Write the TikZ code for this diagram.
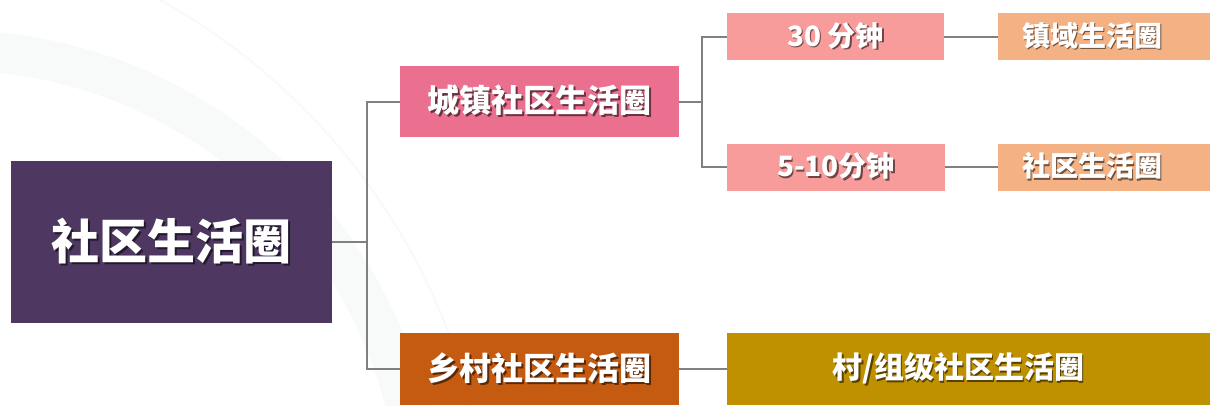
\documentclass[tikz,border=0pt]{standalone}
\usepackage{fontspec}
\newfontfamily\cjk{Noto Sans CJK SC}
\definecolor{cpurple}{HTML}{4E3861}
\definecolor{cpink}{HTML}{EB6F8E}
\definecolor{corange}{HTML}{C55A11}
\definecolor{csalmon}{HTML}{F79C9A}
\definecolor{cpeach}{HTML}{F4B183}
\definecolor{cgold}{HTML}{BF9000}
\definecolor{cline}{HTML}{808080}
\definecolor{carc}{HTML}{F8FAFA}
\newcommand\shtext[2]{\makebox[0pt][l]{\hspace{1.6pt}\raisebox{-1.6pt}{\textcolor{#1!45!black}{#2}}}#2}
\tikzset{
  box/.style={rectangle, inner sep=0pt, text=white, font=\cjk\bfseries},
  conn/.style={draw=cline, line width=2pt},
}
\begin{document}
\begin{tikzpicture}[x=1pt,y=-1pt]
\useasboundingbox (0,0) rectangle (1210,405);
\fill[white] (0,0) rectangle (1210,405);
% faint background arcs
\begin{scope}
\clip (0,0) rectangle (1210,405);
\draw[carc, line width=40pt] (-50,520) circle (470);
\draw[carc, line width=2pt] (-150,560) circle (640);
\end{scope}
% nodes
\node[box, fill=cpurple, minimum width=321, minimum height=162, font=\cjk\bfseries\fontsize{48}{50}\selectfont] (m) at (171.5,242) {\shtext{cpurple}{社区生活圈}};
\node[box, fill=cpink, minimum width=279, minimum height=71, font=\cjk\bfseries\fontsize{32}{34}\selectfont] (cz) at (539.5,101.5) {\shtext{cpink}{城镇社区生活圈}};
\node[box, fill=corange, minimum width=279, minimum height=72, font=\cjk\bfseries\fontsize{32}{34}\selectfont] (xc) at (539.5,369) {\shtext{corange}{乡村社区生活圈}};
\node[box, fill=csalmon, minimum width=217, minimum height=47, font=\cjk\bfseries\fontsize{28}{30}\selectfont] (t30) at (835.5,36.5) {\shtext{csalmon}{30 分钟}};
\node[box, fill=csalmon, minimum width=218, minimum height=47, font=\cjk\bfseries\fontsize{28}{30}\selectfont] (t510) at (836,167) {\shtext{csalmon}{5-10分钟}};
\node[box, fill=cpeach, anchor=west, minimum width=212, minimum height=47, text width=164, inner xsep=24, align=left, font=\cjk\bfseries\fontsize{28}{30}\selectfont] (zy) at (998,36.5) {\shtext{cpeach}{镇域生活圈}};
\node[box, fill=cpeach, anchor=west, minimum width=212, minimum height=47, text width=164, inner xsep=24, align=left, font=\cjk\bfseries\fontsize{28}{30}\selectfont] (sq) at (998,167) {\shtext{cpeach}{社区生活圈}};
\node[box, fill=cgold, minimum width=483, minimum height=72, font=\cjk\bfseries\fontsize{30}{32}\selectfont] (cj) at (968.5,369) {\shtext{cgold}{村/组级社区生活圈}\hspace*{20pt}};
% connectors
\coordinate (j1) at (366.5,242);
\coordinate (j2) at (702,101.5);
\draw[conn] (m.east) -- (j1) |- (cz.west);
\draw[conn] (j1) |- (xc.west);
\draw[conn] (cz.east) -- (j2) |- (t30.west);
\draw[conn] (j2) |- (t510.west);
\draw[conn] (t30.east) -- (zy.west);
\draw[conn] (t510.east) -- (sq.west);
\draw[conn] (xc.east) -- (cj.west);
\end{tikzpicture}
\end{document}
